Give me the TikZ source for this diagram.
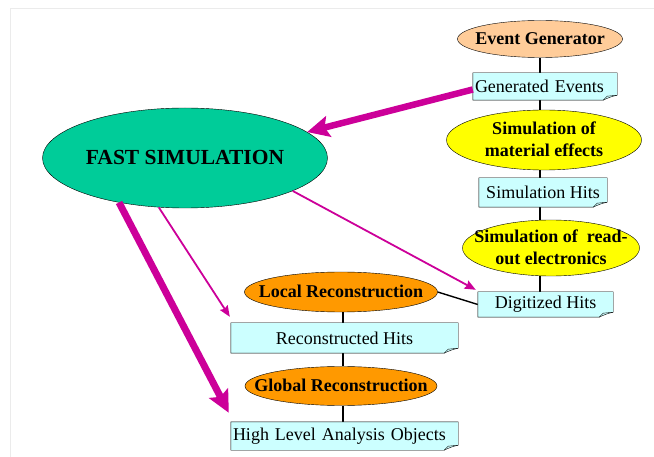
\documentclass[tikz,border=0pt]{standalone}
\usepackage{fontspec}
\setmainfont{Liberation Serif}
\usetikzlibrary{shapes.geometric,arrows.meta,backgrounds}

\definecolor{peach}{RGB}{255,204,153}
\definecolor{simyellow}{RGB}{255,255,0}
\definecolor{fastgreen}{RGB}{0,204,153}
\definecolor{recoorange}{RGB}{255,153,0}
\definecolor{hitcyan}{RGB}{204,255,255}
\definecolor{flowpink}{RGB}{204,0,153}

% text that does not size the ellipse
\newcommand{\etxt}[1]{\raisebox{-0.32em}[0pt][0pt]{\makebox[0pt]{\begin{tabular}{@{}c@{}}#1\end{tabular}}}}
% cyan note frame with a turned-up corner
\newcommand{\hitframe}[1]{%
  \filldraw[fill=hitcyan, thin] (#1.north west) -- (#1.north east)
    -- ([yshift=5pt]#1.south east)
    .. controls ([xshift=-5pt,yshift=4pt]#1.south east) and ([xshift=-10pt,yshift=2pt]#1.south east)
    .. ([xshift=-14pt]#1.south east) -- (#1.south west) -- cycle;
  \draw[thin] ([xshift=-14pt]#1.south east) -- ([xshift=-10pt,yshift=4pt]#1.south east)
    -- ([yshift=5pt]#1.south east);}

\tikzset{
  stage/.style={ellipse, draw, thin, inner sep=0pt,
    font=\fontsize{18}{21.5}\selectfont\bfseries},
  hitbox/.style={rectangle, inner sep=0pt, align=center,
    font=\fontsize{18}{21.5}\selectfont},
  chain/.style={line width=1.8pt},
  feed/.style={flowpink, line width=6.5pt,
    -{Stealth[length=22pt,width=21pt,inset=4pt]}},
  flow/.style={flowpink, line width=1.8pt,
    -{Stealth[length=11pt,width=9pt,inset=1.5pt]}}
}

\begin{document}
\begin{tikzpicture}[x=1pt, y=-1pt, line join=round]
  \useasboundingbox (0,0) rectangle (654,457);
  % faint page frame
  \draw[black!8] (10,457) -- (10,8) -- (654,8);

  % simulation chain (right)
  \node[stage, fill=peach, minimum width=165pt, minimum height=37pt] (evgen) at (540,39) {\etxt{Event Generator}};
  \node[hitbox, minimum width=144pt, minimum height=27pt, text width=140pt, align=left] (genev) at (545,86.5) {Generated Events};
  \node[stage, fill=simyellow, minimum width=195pt, minimum height=60pt] (simmat) at (544,140) {\etxt{Simulation of\\material effects}};
  \node[hitbox, minimum width=128pt, minimum height=29pt] (simhits) at (543,192.5) {Simulation Hits};
  \node[stage, fill=simyellow, minimum width=177pt, minimum height=56pt] (simro) at (551,248) {\etxt{Simulation of\ \ read-\\out electronics}};
  \node[hitbox, minimum width=135pt, minimum height=25pt] (dighits) at (545.5,304.5) {Digitized Hits};

  % fast simulation
  \node[stage, fill=fastgreen, minimum width=285pt, minimum height=100pt,
    font=\fontsize{21.5}{24}\selectfont\bfseries] (fastsim) at (185,158) {\etxt{FAST SIMULATION}};

  % reconstruction chain (bottom)
  \node[stage, fill=recoorange, minimum width=193pt, minimum height=40pt] (locreco) at (341,292) {\etxt{Local Reconstruction}};
  \node[hitbox, minimum width=227pt, minimum height=30pt] (recohits) at (344.5,338) {Reconstructed Hits};
  \node[stage, fill=recoorange, minimum width=192pt, minimum height=39pt] (globreco) at (341,386) {\etxt{Global Reconstruction}};
  \node[hitbox, minimum width=227pt, minimum height=28pt, text width=223pt, align=left] (hlao) at (344.5,436) {High Level Analysis Objects};

  \coordinate (simaxis) at (540,0);
  \coordinate (recoaxis) at (343,0);

  \begin{scope}[on background layer]
    \draw[chain] (simaxis |- evgen.south) -- (simaxis |- genev.north);
    \draw[chain] (simaxis |- genev.south) -- (simaxis |- simmat.north);
    \draw[chain] (simaxis |- simmat.south) -- (simaxis |- simhits.north);
    \draw[chain] (simaxis |- simhits.south) -- (simaxis |- simro.north);
    \draw[chain] (simaxis |- simro.south) -- (simaxis |- dighits.north);
    \draw[chain] (recoaxis |- locreco.south) -- (recoaxis |- recohits.north);
    \draw[chain] (recoaxis |- recohits.south) -- (recoaxis |- globreco.north);
    \draw[chain] (recoaxis |- globreco.south) -- (recoaxis |- hlao.north);
    \draw[line width=1.4pt] (locreco.east) -- (dighits.west);
    \hitframe{genev}
    \hitframe{simhits}
    \hitframe{dighits}
    \hitframe{recohits}
    \hitframe{hlao}
  \end{scope}

  % fast simulation shortcuts
  \draw[feed] ([yshift=-3pt]genev.west) -- (fastsim.12);
  \draw[feed, line width=7pt] (fastsim.-146) -- ([xshift=-2pt,yshift=9pt]hlao.north west);
  \draw[flow] (fastsim.-118) -- ([xshift=-1pt,yshift=6pt]recohits.north west);
  \draw[flow] (fastsim.-17) -- ([xshift=-2pt,yshift=2pt]dighits.north west);
\end{tikzpicture}
\end{document}
